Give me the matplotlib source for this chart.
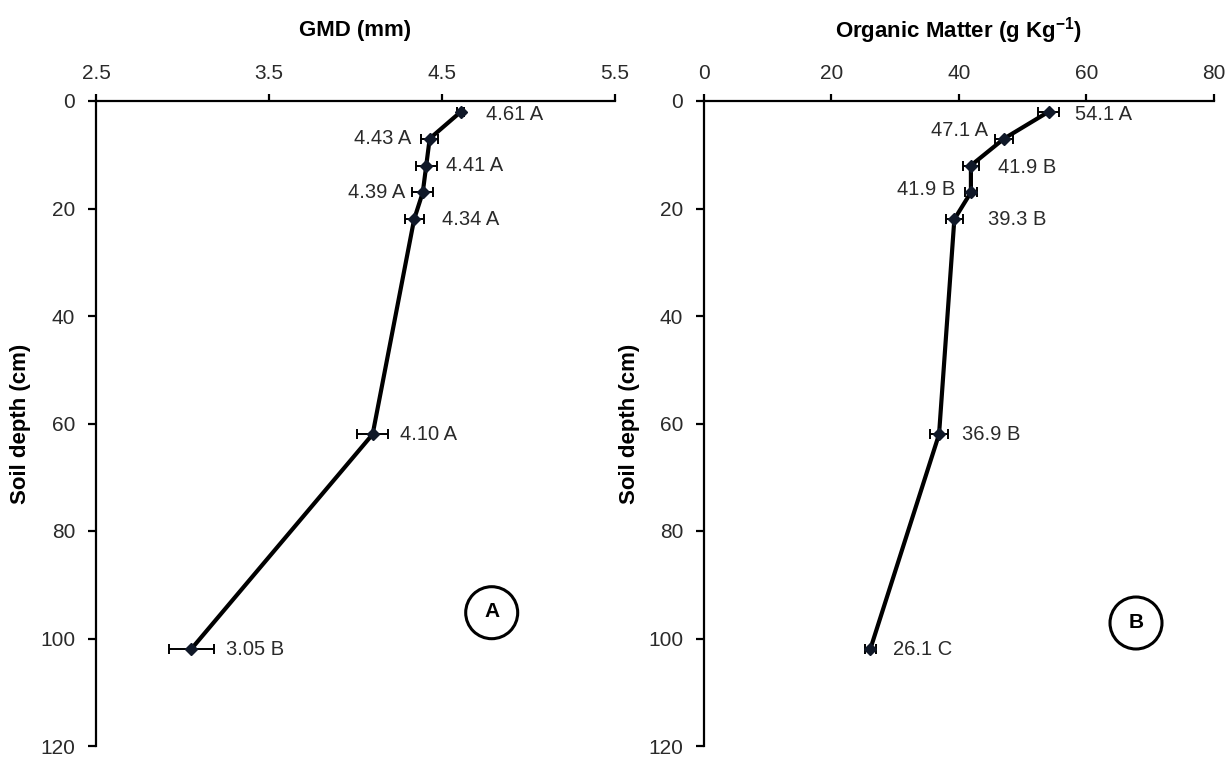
import matplotlib
matplotlib.use("Agg")
import matplotlib.pyplot as plt
from matplotlib.patches import Ellipse

# ---------------- data ----------------
depth = [2, 7, 12, 17, 22, 62, 102]

gmd = [4.61, 4.43, 4.41, 4.39, 4.34, 4.10, 3.05]
gmd_err = [0.02, 0.05, 0.06, 0.06, 0.055, 0.09, 0.13]
gmd_letters = ["A", "A", "A", "A", "A", "A", "B"]

om = [54.1, 47.1, 41.9, 41.9, 39.3, 36.9, 26.1]
om_err = [1.6, 1.4, 1.25, 1.0, 1.35, 1.45, 0.9]
om_letters = ["A", "A", "B", "B", "B", "B", "C"]

gmd_ticks = [2.5, 3.5, 4.5, 5.5]
om_ticks = [0, 20, 40, 60, 80]
depth_ticks = [0, 20, 40, 60, 80, 100, 120]

# label placement (pixel offsets, style only)
gmd_off = [(25, -3), (-18, 0), (20, 0), (-18, 0), (28, 0), (27, 0), (35, 0)]
om_off = [(26, -3), (-16, 8), (27, -2), (-16, 3), (34, 0), (23, 0), (23, 0)]

plt.rcParams["font.family"] = ["Liberation Sans", "DejaVu Sans"]
plt.rcParams["mathtext.fontset"] = "custom"
plt.rcParams["mathtext.rm"] = "Liberation Sans"
plt.rcParams["mathtext.bf"] = "Liberation Sans:bold"

W, H = 1229, 758
fig = plt.figure(figsize=(W / 100, H / 100), dpi=100)

top_px, bot_px = 101, 746
axL = fig.add_axes([96 / W, 1 - bot_px / H, (614.7 - 96) / W, (bot_px - top_px) / H])
axR = fig.add_axes([704 / W, 1 - bot_px / H, (1213.6 - 704) / W, (bot_px - top_px) / H])

txt_col = "#2a2a2a"


def style(ax, xticks, xlim, title):
    ax.set_xlim(*xlim)
    ax.set_ylim(120, 0)
    ax.xaxis.tick_top()
    ax.set_xticks(xticks)
    ax.set_xticklabels([f"{t:g}" for t in xticks])
    ax.set_yticks(depth_ticks)
    for s in ["right", "bottom"]:
        ax.spines[s].set_visible(False)
    for s in ["left", "top"]:
        ax.spines[s].set_linewidth(1.6)
        ax.spines[s].set_color("black")
    ax.tick_params(axis="x", direction="out", length=5, width=1.6, pad=8,
                   labelsize=15, labelcolor=txt_col)
    ax.tick_params(axis="y", direction="out", length=6, width=1.6, pad=9,
                   labelsize=15, labelcolor=txt_col)
    ax.set_ylabel("Soil depth (cm)", fontsize=16, fontweight="bold")
    ax.yaxis.set_label_coords(-0.125, 0.5)
    ax.text(0.5, 1.11, title, transform=ax.transAxes, ha="center", va="center",
            fontsize=16, fontweight="bold")
    ax.set_facecolor("none")


style(axL, gmd_ticks, (2.5, 5.5), "GMD (mm)")
style(axR, om_ticks, (0, 80), r"Organic Matter (g Kg$^{\mathbf{-1}}$)")

for ax, xs, errs, letters, offs in [
    (axL, gmd, gmd_err, gmd_letters, gmd_off),
    (axR, om, om_err, om_letters, om_off),
]:
    ax.errorbar(xs, depth, xerr=errs, color="black", lw=3, elinewidth=1.4,
                capsize=3.5, capthick=1.4, marker="D", markersize=6,
                markerfacecolor="#101828", markeredgecolor="#101828", zorder=3,
                clip_on=False)
    for x, d, l, (dx, dy) in zip(xs, depth, letters, offs):
        lab = f"{x:.2f} {l}" if ax is axL else f"{x:.1f} {l}"
        ax.annotate(lab, (x, d), xytext=(dx, dy), textcoords="offset pixels",
                    ha="left" if dx > 0 else "right", va="center",
                    fontsize=14.5, color=txt_col)

# panel markers (circled letters)
for cx, cy, letter in [(491.7, 612.7, "A"), (1136, 623, "B")]:
    fig.patches.append(Ellipse((cx / W, 1 - cy / H), 52 / W, 52 / H,
                               transform=fig.transFigure, fill=False,
                               lw=2.2, edgecolor="black"))
    fig.text(cx / W, 1 - cy / H + 1 / H, letter, ha="center", va="center",
             fontsize=15, fontweight="bold")

fig.savefig("out.png", dpi=100, facecolor="white")
